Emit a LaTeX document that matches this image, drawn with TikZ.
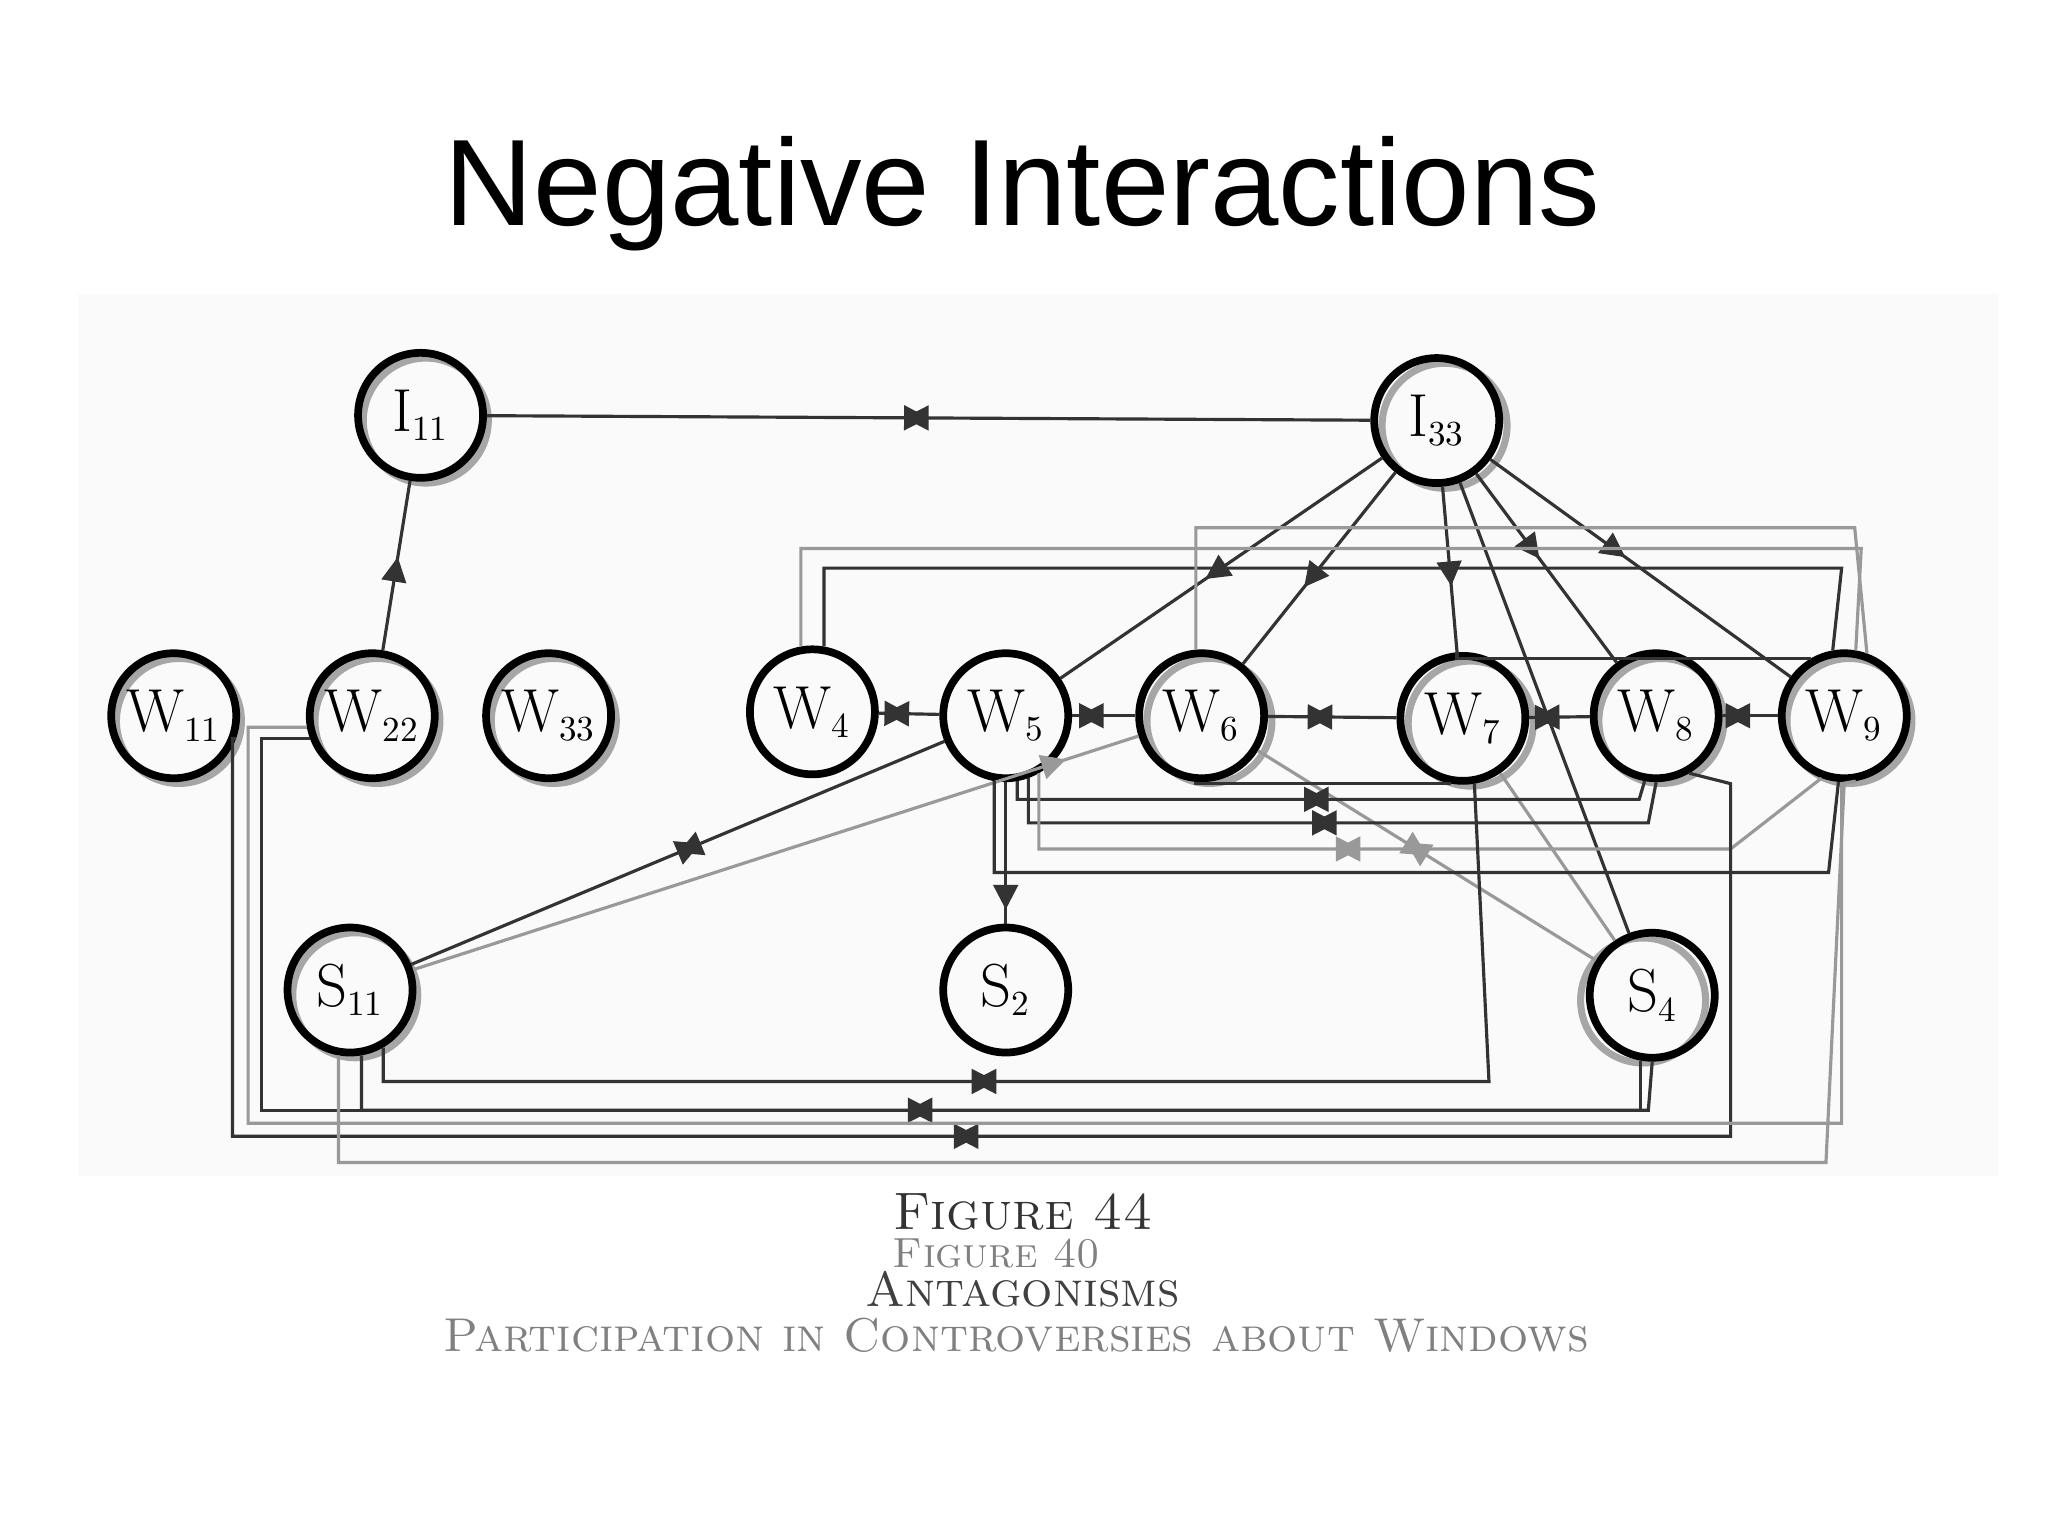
\documentclass[tikz,border=0pt]{standalone}
\usepackage{fontspec}
\newfontfamily\titlefont{Liberation Sans}
\usetikzlibrary{arrows.meta,decorations.markings}
\newcommand{\lab}[2]{#1\textsubscript{\normalsize#2}}
\begin{document}
\begin{tikzpicture}[x=0.01306cm,y=-0.01306cm,
  pers/.style={circle,draw=black,line width=2.2pt,minimum size=1.25cm,inner sep=0pt,font=\LARGE},
  ghost/.style={circle,draw=black!35,line width=2pt,minimum size=1.25cm},
  ln/.style={draw=black!80,line width=0.9pt},
  gl/.style={draw=black!40,line width=0.9pt},
  bow/.style={postaction={decorate},decoration={markings,mark=at position #1 with {\arrow{Triangle[length=7pt,width=7pt]}\arrow{Triangle[reversed,length=7pt,width=7pt]}}}},
  tip/.style={postaction={decorate},decoration={markings,mark=at position #1 with {\arrow{Triangle[length=7pt,width=7pt]}}}}]
\useasboundingbox (0,0) rectangle (1568,1176);
\fill[white] (0,0) rectangle (1568,1176);
\fill[black!2] (60,225) rectangle (1530,900);
\node[font=\titlefont\fontsize{35}{42}\selectfont] (title) at (783,148) {Negative Interactions};
\foreach \p in {(326,322),(1106,326),(137,552),(289,552),(424,552),(926,552),(1126,554),(1272,552),(1416,552),(272,762),(1258,766)}
  \node[ghost] at \p {};
\node[pers] (I11) at (322,318) {\lab{I}{11}};
\node[pers] (I33) at (1100,322) {\lab{I}{33}};
\node[pers] (W11) at (133,548) {\lab{W}{11}};
\node[pers] (W22) at (285,548) {\lab{W}{22}};
\node[pers] (W33) at (420,548) {\lab{W}{33}};
\node[pers] (W4) at (622,545) {\lab{W}{4}};
\node[pers] (W5) at (770,548) {\lab{W}{5}};
\node[pers] (W6) at (920,548) {\lab{W}{6}};
\node[pers] (W7) at (1120,550) {\lab{W}{7}};
\node[pers] (W8) at (1268,548) {\lab{W}{8}};
\node[pers] (W9) at (1412,548) {\lab{W}{9}};
\node[pers] (S11) at (268,758) {\lab{S}{11}};
\node[pers] (S2) at (770,758) {\lab{S}{2}};
\node[pers] (S4) at (1265,762) {\lab{S}{4}};
\draw[ln,bow=0.5] (I11) -- (I33);
\draw[ln,tip=0.55] (W22) -- (I11);
\draw[ln,tip=0.55] (I33) -- (W5);
\draw[ln,tip=0.6] (I33) -- (W6);
\draw[ln,tip=0.6] (I33) -- (W7);
\draw[ln,tip=0.45] (I33) -- (W8);
\draw[ln,tip=0.45] (I33) -- (W9);
\draw[ln] (I33) -- (S4);
\draw[ln,bow=0.5] (W4) -- (W5);
\draw[ln,bow=0.5] (W5) -- (W6);
\draw[ln,bow=0.5] (W6) -- (W7);
\draw[ln,bow=0.5] (W7) -- (W8);
\draw[ln,bow=0.5] (W8) -- (W9);
\draw[ln,bow=0.5] (W5) -- (S11);
\draw[gl,tip=0.9] (S11) -- (W6);
\draw[ln,tip=0.9] (W5) -- (S2);
\draw[gl,bow=0.5] (W6) -- (S4);
\draw[gl] (W7) -- (S4);
\draw[gl] (W4.100) |- (1425,420) -- (W9.80);
\draw[ln] (W4.80) |- (1410,435) -- (W9.100);
\draw[gl] (W6.95) |- (1420,404) -- (W9.70);
\draw[ln] (W7.95) |- (W9.120);
\draw[ln] (W6.-95) |- (W7.-100);
\draw[ln,bow=0.5] (W5.-80) |- (1255,612) -- (W8.-100);
\draw[ln,bow=0.5] (W5.-70) |- (1262,630) -- (W8.-90);
\draw[gl,bow=0.45] (W5.-60) |- (1325,650) -- (W9.-110);
\draw[ln] (W5.-100) |- (1400,668) -- (W9.-95);
\draw[ln,bow=0.45] (S11.-60) |- (1140,828) -- (W7.-80);
\draw[ln,bow=0.45] (S11.-80) |- (1262,850) -- (S4.-90);
\draw[ln,bow=0.5] (W11.-20) -| (178,870) -| (1325,600) -- (W8.-60);
\draw[ln] (W22.-160) -| (200,850) -| (S4.-100);
\draw[gl] (W22.-170) -| (190,860) -| (1410,600) -- (W9.-80);
\draw[gl] (S11.-100) |- (1398,890) -- (W9.-90);
\node[font=\fontsize{15}{16}\selectfont\scshape,text=black!80] (f44) at (783,928) {Figure 44};
\node[font=\fontsize{12}{13}\selectfont\scshape,text=black!50] (f40) at (763,960) {Figure 40};
\node[font=\fontsize{14}{15}\selectfont\scshape,text=black!75] (ant) at (783,987) {Antagonisms};
\node[font=\fontsize{13.5}{15}\selectfont\scshape,text=black!50] (part) at (778,1022) {Participation in Controversies about Windows};
\end{tikzpicture}
\end{document}
